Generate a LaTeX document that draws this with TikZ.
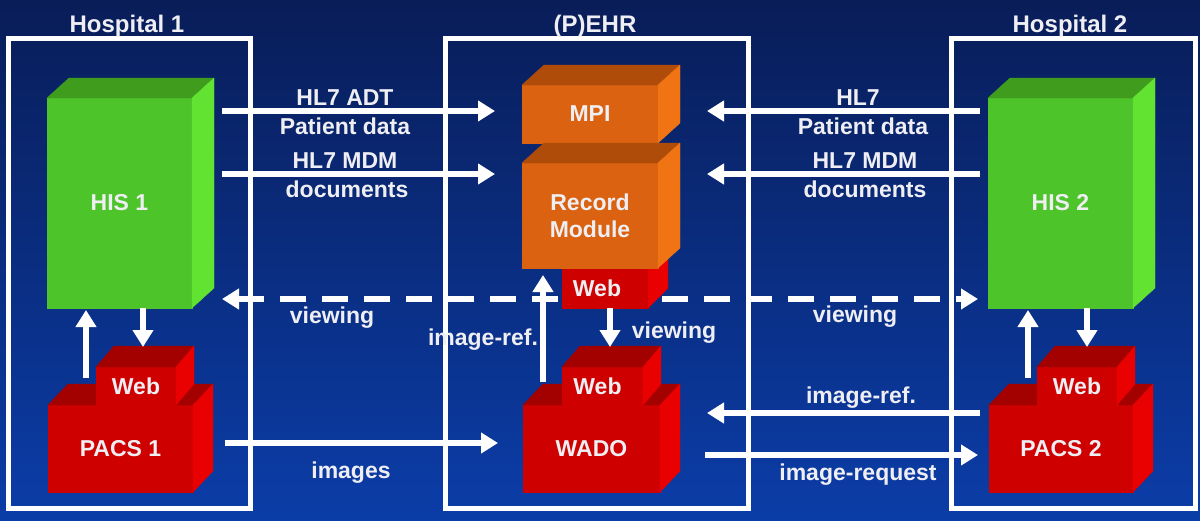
\documentclass[tikz,border=0pt]{standalone}
\usepackage{fontspec}
\setmainfont{Liberation Sans}
\usetikzlibrary{arrows.meta,calc}
\definecolor{bgtop}{HTML}{091D58}
\definecolor{bgbot}{HTML}{0B3DA8}
\definecolor{txt}{HTML}{EEEEF3}
\definecolor{gfront}{HTML}{4DC429}
\definecolor{gtop}{HTML}{3F9C1D}
\definecolor{gside}{HTML}{62E332}
\definecolor{ofront}{HTML}{DA6210}
\definecolor{otop}{HTML}{B04C0A}
\definecolor{oside}{HTML}{F07414}
\definecolor{rfront}{HTML}{CF0000}
\definecolor{rtop}{HTML}{A30000}
\definecolor{rside}{HTML}{E90000}
\newcommand\lab{\fontsize{23}{27}\selectfont\bfseries}
\newcommand\ttl{\fontsize{24}{28}\selectfont\bfseries}
\newcommand\cubefaces[5]{%
  \filldraw[fill=#4,draw=#4,line width=0.4pt,line join=round]
    (#1.north west) -- ++(#2,-#3) -- ($(#1.north east)+(#2,-#3)$) -- (#1.north east) -- cycle;
  \filldraw[fill=#5,draw=#5,line width=0.4pt,line join=round]
    (#1.north east) -- ++(#2,-#3) -- ($(#1.south east)+(#2,-#3)$) -- (#1.south east) -- cycle;}
\begin{document}
\begin{tikzpicture}[x=1pt,y=-1pt,
  lab/.style={text=txt,font=\lab,inner sep=0pt},
  ttlab/.style={text=txt,font=\ttl,inner sep=0pt},
  frame/.style={draw=white,line width=5pt,inner sep=0pt},
  arr/.style={draw=white,line width=6pt,-{Triangle[length=17pt,width=20pt]}},
  dasharr/.style={arr,dash pattern=on 26pt off 16pt},
  front/.style={inner sep=0pt,outer sep=0pt,text=txt,font=\lab,align=center,line width=0.4pt},
  gbox/.style={front,fill=gfront,draw=gfront},
  obox/.style={front,fill=ofront,draw=ofront},
  rbox/.style={front,fill=rfront,draw=rfront}]
\useasboundingbox (0,0) rectangle (1200,520);
\shade[top color=bgtop,bottom color=bgbot] (0,0) rectangle (1200,520);

% frames
\node[frame,minimum width=242pt,minimum height=470pt] (hosp1) at (129,273) {};
\node[frame,minimum width=303pt,minimum height=470pt] (ehr) at (596.5,273) {};
\node[frame,minimum width=244pt,minimum height=470pt] (hosp2) at (1073,273) {};
\node[ttlab,anchor=base] (t1) at (127,32) {Hospital 1};
\node[ttlab,anchor=base] (t2) at (595,32) {(P)EHR};
\node[ttlab,anchor=base] (t3) at (1070,32) {Hospital 2};

% Hospital 1
\node[gbox,minimum width=145pt,minimum height=210pt] (his1) at (119.5,203) {HIS 1};
\cubefaces{his1}{22}{20}{gtop}{gside}
\node[rbox,minimum width=145pt,minimum height=87pt] (pacs1) at (120.5,448.5) {PACS 1};
\cubefaces{pacs1}{20}{21}{rtop}{rside}
\node[rbox,minimum width=80pt,minimum height=38pt] (web1) at (136,386) {Web};
\cubefaces{web1}{18}{21}{rtop}{rside}

% Hospital 2
\node[gbox,minimum width=145pt,minimum height=210pt] (his2) at (1060.5,203) {HIS 2};
\cubefaces{his2}{22}{20}{gtop}{gside}
\node[rbox,minimum width=144pt,minimum height=87pt] (pacs2) at (1061,448.5) {PACS 2};
\cubefaces{pacs2}{20}{21}{rtop}{rside}
\node[rbox,minimum width=80pt,minimum height=38pt] (web2) at (1077,386) {Web};
\cubefaces{web2}{18}{21}{rtop}{rside}

% (P)EHR
\node[obox,minimum width=136pt,minimum height=58pt] (mpi) at (590,114) {MPI};
\cubefaces{mpi}{22}{20}{otop}{oside}
\node[rbox,minimum width=86pt,minimum height=40pt] (webr) at (605,288) {\hspace*{-16pt}Web};
\cubefaces{webr}{20}{20}{rtop}{rside}
\node[obox,minimum width=136pt,minimum height=105pt] (rec) at (590,215.5) {Record\\Module};
\cubefaces{rec}{22}{20}{otop}{oside}
\node[rbox,minimum width=137pt,minimum height=87pt] (wado) at (591.5,448.5) {WADO};
\cubefaces{wado}{20}{21}{rtop}{rside}
\node[rbox,minimum width=81pt,minimum height=38pt] (webw) at (602.5,386) {\hspace*{-10pt}Web};
\cubefaces{webw}{18}{21}{rtop}{rside}

% connector end points
\coordinate (adtS) at (222,111);  \coordinate (adtE) at (495,111);
\coordinate (mdmS) at (222,174);  \coordinate (mdmE) at (495,174);
\coordinate (hl2S) at (980,111);  \coordinate (hl2E) at (707,111);
\coordinate (md2S) at (980,174);  \coordinate (md2E) at (707,174);
\coordinate (vwlS) at (558,299);  \coordinate (vwlE) at (222,299);
\coordinate (vwrS) at (662,299);  \coordinate (vwrE) at (978,299);
\coordinate (imgS) at (225,443);  \coordinate (imgE) at (498,443);
\coordinate (irfS) at (980,413);  \coordinate (irfE) at (707,413);
\coordinate (irqS) at (705,455);  \coordinate (irqE) at (978,455);

\draw[arr] (adtS) -- (adtE);
\draw[arr] (mdmS) -- (mdmE);
\draw[arr] (hl2S) -- (hl2E);
\draw[arr] (md2S) -- (md2E);
\draw[dasharr] (vwlS) -- (vwlE);
\draw[dasharr] (vwrS) -- (vwrE);
\draw[arr] (imgS) -- (imgE);
\draw[arr] (irfS) -- (irfE);
\draw[arr] (irqS) -- (irqE);

% vertical connectors
\draw[arr] (86,378) coordinate (u1s) -- (86,310) coordinate (u1e);
\draw[arr] (his1.south -| 143,0) -- (143,347);
\draw[arr] (1028,378) -- (1028,310);
\draw[arr] (his2.south -| 1087,0) -- (1087,347);
\draw[arr] (543,382) -- (543,275);
\draw[arr] (webr.south -| 610,0) -- (610,347);

% labels
\node[lab,anchor=base] (l1) at (345,105) {HL7 ADT};
\node[lab,anchor=base] (l2) at (345,134) {Patient data};
\node[lab,anchor=base] (l3) at (345,168) {HL7 MDM};
\node[lab,anchor=base] (l4) at (347,197) {documents};
\node[lab,anchor=base] (r1) at (858,105) {HL7};
\node[lab,anchor=base] (r2) at (863,134) {Patient data};
\node[lab,anchor=base] (r3) at (865,168) {HL7 MDM};
\node[lab,anchor=base] (r4) at (865,197) {documents};
\node[lab,anchor=base] (v1) at (332,323) {viewing};
\node[lab,anchor=base] (v2) at (855,322) {viewing};
\node[lab,anchor=base] (v3) at (674,338) {viewing};
\node[lab,anchor=base] (ir1) at (483,345) {image-ref.};
\node[lab,anchor=base] (ir2) at (861,403) {image-ref.};
\node[lab,anchor=base] (im) at (351,478) {images};
\node[lab,anchor=base] (irq) at (858,480) {image-request};
\end{tikzpicture}
\end{document}
